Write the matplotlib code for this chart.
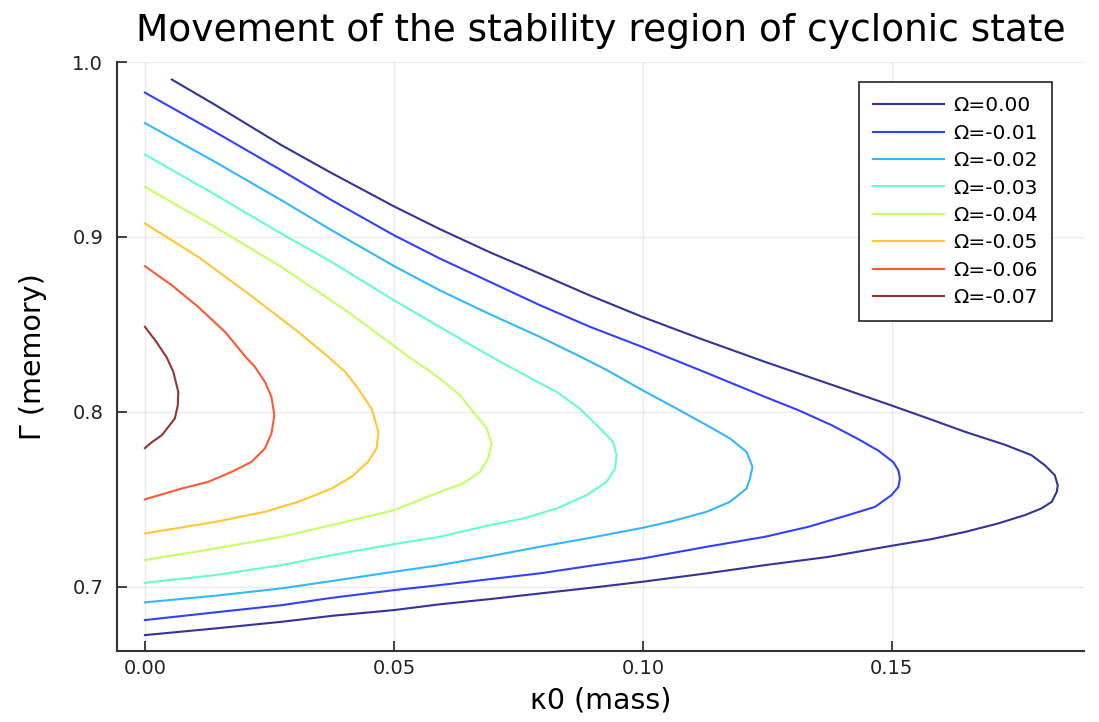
import matplotlib.pyplot as plt
import numpy as np

# stability boundary: kappa0 (x) and Gamma (y)
omega_labels = ["Ω=0.00", "Ω=-0.01", "Ω=-0.02", "Ω=-0.03",
                "Ω=-0.04", "Ω=-0.05", "Ω=-0.06", "Ω=-0.07"]

k_000 = [0.0054, 0.0141, 0.0274, 0.0375, 0.0500, 0.0592, 0.0693, 0.0793, 0.0894,
         0.0999, 0.1114, 0.1245, 0.1372, 0.1498, 0.1580, 0.1647, 0.1727, 0.1780,
         0.1807, 0.1827, 0.1833, 0.1831, 0.1821, 0.1800, 0.1767, 0.1713, 0.1647,
         0.1580, 0.1498, 0.1372, 0.1245, 0.1128, 0.0999, 0.0894, 0.0793, 0.0693,
         0.0592, 0.0500, 0.0375, 0.0274, 0.0141, 0.0000]
g_000 = [0.990, 0.9755, 0.9525, 0.9365, 0.9175, 0.9045, 0.8912, 0.879, 0.8665,
         0.8543, 0.842, 0.8286, 0.8162, 0.8038, 0.7955, 0.7886, 0.7812, 0.7753,
         0.7695, 0.7638, 0.758, 0.7543, 0.7486, 0.7448, 0.741, 0.7362, 0.7314,
         0.7273, 0.7234, 0.7171, 0.7124, 0.7077, 0.7029, 0.6994, 0.6962, 0.693,
         0.690, 0.6867, 0.6834, 0.680, 0.6762, 0.6724]

k_001 = [0.0000, 0.0141, 0.0274, 0.0375, 0.0500, 0.0592, 0.0693, 0.0793, 0.0894,
         0.0999, 0.1128, 0.1245, 0.1312, 0.1379, 0.1432, 0.1473, 0.1503, 0.1513,
         0.1516, 0.1513, 0.1499, 0.1466, 0.1412, 0.1332, 0.1245, 0.1128, 0.0999,
         0.0894, 0.0793, 0.0693, 0.0592, 0.0500, 0.0375, 0.0274, 0.0141, 0.0000]
g_001 = [0.9825, 0.960, 0.9381, 0.921, 0.901, 0.8877, 0.8743, 0.861, 0.8486,
         0.8371, 0.8223, 0.8086, 0.801, 0.7924, 0.7845, 0.7778, 0.7712, 0.7665,
         0.762, 0.7571, 0.7524, 0.7457, 0.741, 0.7343, 0.7286, 0.7229, 0.7162,
         0.712, 0.7077, 0.7044, 0.701, 0.6981, 0.6937, 0.6895, 0.6854, 0.681]

k_002 = [0.0000, 0.0141, 0.0274, 0.0375, 0.0500, 0.0592, 0.0693, 0.0793, 0.0875,
         0.0927, 0.0999, 0.1061, 0.1128, 0.1175, 0.1208, 0.1220, 0.1215, 0.1208,
         0.1175, 0.1128, 0.1061, 0.0999, 0.0894, 0.0793, 0.0693, 0.0592, 0.0500,
         0.0375, 0.0274, 0.0141, 0.0000]
g_002 = [0.9651, 0.9429, 0.921, 0.9038, 0.8834, 0.8695, 0.8558, 0.8429, 0.8315,
         0.824, 0.8124, 0.8029, 0.7924, 0.7848, 0.7771, 0.7686, 0.762, 0.7562,
         0.7486, 0.7429, 0.7377, 0.7337, 0.728, 0.7229, 0.7175, 0.7124, 0.7086,
         0.7033, 0.6991, 0.6949, 0.6911]

k_003 = [0.0000, 0.0141, 0.0274, 0.0375, 0.0500, 0.0592, 0.0693, 0.0760, 0.0827,
         0.0873, 0.0914, 0.0940, 0.0947, 0.0944, 0.0927, 0.0887, 0.0827, 0.0760,
         0.0693, 0.0592, 0.0500, 0.0375, 0.0274, 0.0141, 0.0000]
g_003 = [0.9471, 0.9242, 0.9019, 0.8857, 0.8638, 0.8486, 0.8319, 0.8215, 0.8114,
         0.8019, 0.7905, 0.7829, 0.7753, 0.7676, 0.760, 0.7524, 0.7448, 0.7391,
         0.7353, 0.7286, 0.7244, 0.7181, 0.7124, 0.7067, 0.7023]

k_004 = [0.0000, 0.0141, 0.0274, 0.0408, 0.0532, 0.0569, 0.0597, 0.0633, 0.0659,
         0.0686, 0.0696, 0.0689, 0.0673, 0.0639, 0.0597, 0.0500, 0.0375, 0.0274,
         0.0141, 0.0000]
g_004 = [0.9286, 0.9057, 0.8829, 0.8571, 0.831, 0.8238, 0.8180, 0.8095, 0.800,
         0.791, 0.7819, 0.7733, 0.7657, 0.7591, 0.7548, 0.7438, 0.7353, 0.7286,
         0.7219, 0.7153]

k_005 = [0.0000, 0.0107, 0.0207, 0.0308, 0.0368, 0.0402, 0.0428, 0.0455, 0.0469,
         0.0465, 0.0448, 0.0415, 0.0375, 0.0308, 0.0241, 0.0141, 0.0000]
g_005 = [0.9077, 0.8886, 0.8677, 0.8457, 0.8315, 0.8229, 0.8134, 0.8019, 0.7886,
         0.7791, 0.7714, 0.7629, 0.7562, 0.7486, 0.7429, 0.7371, 0.7305]

k_006 = [0.0000, 0.0054, 0.0107, 0.0161, 0.0202, 0.0221, 0.0241, 0.0254, 0.0260,
         0.0254, 0.0241, 0.0214, 0.0174, 0.0127, 0.0074, 0.0000]
g_006 = [0.8833, 0.8724, 0.860, 0.8457, 0.8315, 0.8257, 0.8171, 0.8086, 0.7981,
         0.7876, 0.7791, 0.7714, 0.7657, 0.760, 0.7562, 0.750]

k_007 = [0.0000, 0.0023, 0.0044, 0.0057, 0.0067, 0.0066, 0.0060, 0.0034, 0.0013,
         0.0000]
g_007 = [0.8486, 0.840, 0.831, 0.8229, 0.8114, 0.8038, 0.7962, 0.7867, 0.7825,
         0.7793]

kappas = [k_000, k_001, k_002, k_003, k_004, k_005, k_006, k_007]
gammas = [g_000, g_001, g_002, g_003, g_004, g_005, g_006, g_007]

colors = plt.cm.jet(np.linspace(0, 1, len(omega_labels)))

fig = plt.figure(figsize=(10.99, 7.22), dpi=100)
ax = fig.add_axes([0.1065, 0.0983, 0.88, 0.8158])

for k, g, c, lab in zip(kappas, gammas, colors, omega_labels):
    ax.plot(k, g, color=c, alpha=0.8, lw=1.5, label=lab)

ax.set_xlim(-0.0056, 0.1886)
ax.set_ylim(0.6633, 1.0)
ax.set_xticks([0.0, 0.05, 0.10, 0.15])
ax.set_xticklabels(["0.00", "0.05", "0.10", "0.15"])
ax.set_yticks([0.7, 0.8, 0.9, 1.0])
ax.set_yticklabels(["0.7", "0.8", "0.9", "1.0"])
ax.grid(True, color="black", alpha=0.08, lw=1)
ax.tick_params(direction="in", length=7, width=1.2, labelsize=14, colors="#222222")
ax.tick_params(axis="x", pad=6)
ax.tick_params(axis="y", pad=10)
for s in ["top", "right"]:
    ax.spines[s].set_visible(False)
for s in ["left", "bottom"]:
    ax.spines[s].set_linewidth(1.5)
    ax.spines[s].set_color("#333333")

ax.set_title("Movement of the stability region of cyclonic state", fontsize=27, pad=15)
ax.set_xlabel("κ0 (mass)", fontsize=20.5, labelpad=6)
ax.set_ylabel("Γ (memory)", fontsize=20.5, labelpad=18)

leg = ax.legend(loc="upper right", bbox_to_anchor=(0.967, 0.966), borderaxespad=0,
                fontsize=14.5, handlelength=3.5, handletextpad=0.5, labelspacing=0.42,
                borderpad=0.7, fancybox=False, framealpha=1)
leg.get_frame().set_edgecolor("#222222")
leg.get_frame().set_linewidth(1.2)

plt.savefig("out.png", dpi=100)
plt.close()
